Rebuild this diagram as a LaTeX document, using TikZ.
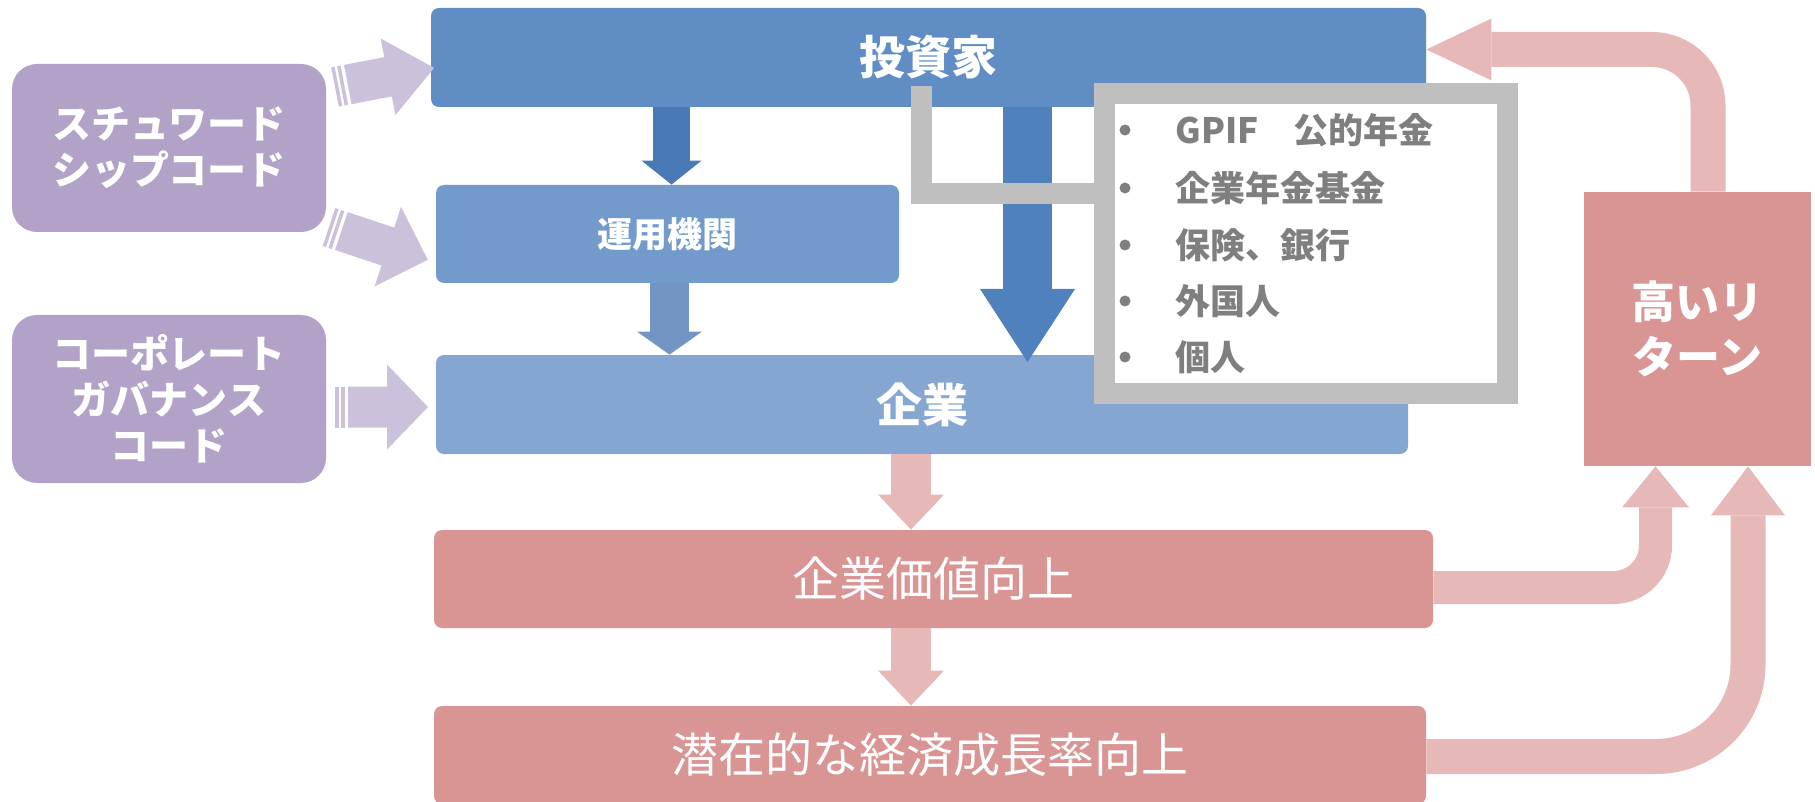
\documentclass[tikz,border=0pt]{standalone}
\usepackage{fontspec}
\setmainfont{Noto Sans CJK JP}
\usetikzlibrary{arrows.meta}
\definecolor{purpbox}{HTML}{B3A2C7}
\definecolor{purparr}{HTML}{CCC1DA}
\definecolor{invblue}{HTML}{5F8DC4}
\definecolor{amblue}{HTML}{729ACB}
\definecolor{coblue}{HTML}{84A6D0}
\definecolor{arrdark}{HTML}{4A7AB6}
\definecolor{arrbig}{HTML}{4F81BD}
\definecolor{arrmid}{HTML}{7395C3}
\definecolor{graybd}{HTML}{BFBFBF}
\definecolor{graytx}{HTML}{7F7F7F}
\definecolor{pinkbox}{HTML}{D99594}
\definecolor{pinkarr}{HTML}{E6B8B7}
\newcommand\stripedarrow[4]{% #1 length, #2 head length, #3 shaft half, #4 head half
  \fill (0,-#3) rectangle (3.5,#3);
  \fill (6,-#3) rectangle (9.5,#3);
  \fill (13,-#3) -- ({#1-#2},-#3) -- ({#1-#2},-#4) -- (#1,0) -- ({#1-#2},#4) -- ({#1-#2},#3) -- (13,#3) -- cycle;}
\begin{document}
\begin{tikzpicture}[x=0.5pt,y=-0.5pt,
  box/.style={rounded corners=4pt, inner sep=0pt, text=white, align=center},
  purp/.style={fill=purpbox, rounded corners=12.5pt, inner sep=0pt, text=white, align=center,
    minimum width=157pt, minimum height=84pt, font=\bfseries\fontsize{19.5}{23}\selectfont},
  bigtx/.style={font=\bfseries\fontsize{23}{28}\selectfont},
  redtx/.style={font=\fontsize{23.5}{28}\selectfont},
  listtx/.style={anchor=west, inner sep=0pt, text=graytx, font=\bfseries\fontsize{17.5}{21}\selectfont},
  blk/.style={line width=#1, line cap=butt},
]
\useasboundingbox (0,0) rectangle (1815,802);

% left purple boxes
\node[purp] (sc) at (169,148) {スチュワード\\シップコード};
\node[purp] (cg) at (169,399) {コーポレート\\ガバナンス\\コード};

% blue boxes
\node[box, fill=invblue, minimum width=497.5pt, minimum height=49.5pt, bigtx] (inv) at (928.5,57.5) {投資家};
\node[box, fill=amblue, minimum width=231.5pt, minimum height=49pt, font=\bfseries\fontsize{17.5}{21}\selectfont] (am) at (667.5,234) {運用機関};
\node[box, fill=coblue, minimum width=486pt, minimum height=49.5pt, bigtx] (co) at (922,404.5) {企業};

% pink boxes
\node[box, fill=pinkbox, minimum width=499.5pt, minimum height=49pt, redtx] (cv) at (933.5,579) {企業価値向上};
\node[box, fill=pinkbox, minimum width=496pt, minimum height=49pt, redtx] (pg) at (930,755) {潜在的な経済成長率向上};
\node[fill=pinkbox, inner sep=0pt, minimum width=113.5pt, minimum height=137pt, text=white, align=center,
  font=\bfseries\fontsize{22}{27.5}\selectfont] (hr) at (1697.5,329) {高いリ\\ターン};

% purple striped arrows
\begin{scope}[purparr, shift={(335,87)}, rotate=10.9]
  \stripedarrow{101}{47}{20}{39}
\end{scope}
\begin{scope}[purparr, shift={(329,227)}, rotate=-18.4]
  \stripedarrow{104}{42}{20}{42}
\end{scope}
\begin{scope}[purparr, shift={(335,407)}]
  \stripedarrow{93}{41}{20.5}{42.5}
\end{scope}

% blue arrows
\draw[arrdark, blk=18.5pt, -{Triangle[width=30pt,length=12pt,line width=0pt]}]
  (inv.south -| 671.5,0) -- (am.north -| 671.5,0);
\draw[arrmid, blk=19.5pt, -{Triangle[width=32.5pt,length=11.5pt,line width=0pt]}]
  (am.south -| 669.5,0) -- (co.north -| 669.5,0);
\coordinate (bigtip) at (1027.5,362);
\draw[arrbig, blk=24.5pt, -{Triangle[width=47.5pt,length=36.5pt,line width=0pt]}]
  (inv.south -| 1027.5,0) -- (bigtip);

% pink down arrows
\draw[pinkarr, blk=20pt, -{Triangle[width=33pt,length=17.5pt,line width=0pt]}]
  (co.south -| 911,0) -- (cv.north -| 911,0);
\draw[pinkarr, blk=20pt, -{Triangle[width=33pt,length=17.5pt,line width=0pt]}]
  (cv.south -| 911,0) -- (pg.north -| 911,0);

% return arrows
\draw[pinkarr, blk=17.5pt, rounded corners=28pt, -{Triangle[width=31pt,length=32.5pt,line width=0pt]}]
  (hr.north -| 1708,0) |- (inv.east |- 0,49.5);
\draw[pinkarr, blk=16.5pt, rounded corners=21pt, -{Triangle[width=33.5pt,length=20.5pt,line width=0pt]}]
  (cv.east |- 0,587.5) -| (hr.south -| 1655.5,0);
\draw[pinkarr, blk=17.5pt, rounded corners=46pt, -{Triangle[width=37pt,length=24.5pt,line width=0pt]}]
  (pg.east |- 0,756.5) -| (hr.south -| 1748,0);

% gray connector and list box
\coordinate (gtop) at (921,86);
\coordinate (gend) at (1100,194);
\draw[graybd, line width=10.5pt, line join=miter, line cap=butt] (gtop) |- (gend);
\node[draw=graybd, fill=white, line width=10.5pt, inner sep=0pt, minimum width=201.5pt, minimum height=150pt] (gb) at (1306,243.5) {};

\foreach \y/\t [count=\i] in {130/{GPIF　公的年金}, 188/{企業年金基金}, 245/{保険、銀行}, 301/{外国人}, 357/{個人}} {
  \fill[graytx] (1125,\y) circle (2.75pt);
  \node[listtx] (l\i) at (1175,\y) {\t};
}
\end{tikzpicture}
\end{document}
